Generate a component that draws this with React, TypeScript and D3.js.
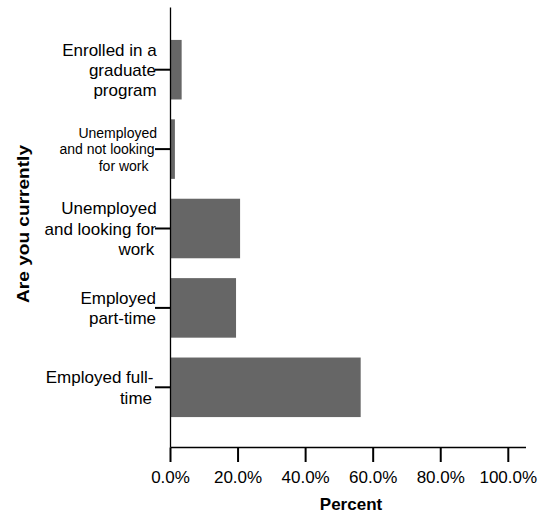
import React, { useEffect, useRef } from "react";
import * as d3 from "d3";

// categories top to bottom, each split into the lines shown on the axis
const categories = [
  "Enrolled in a graduate program",
  "Unemployed and not looking for work",
  "Unemployed and looking for work",
  "Employed part-time",
  "Employed full-time",
];
const categoryLines = [
  ["Enrolled in a", "graduate", "program"],
  ["Unemployed", "and not looking", "for work"],
  ["Unemployed", "and looking for", "work"],
  ["Employed", "part-time"],
  ["Employed full-", "time"],
];
const percents = [3.3, 1.3, 20.6, 19.4, 56.3];
const xTicks = [0, 20, 40, 60, 80, 100];

// right edge of each wrapped label line (the source wrap leaves trailing spaces)
const lineEnds = [
  [156.7, 156, 156.7],
  [157, 154.5, 148.5],
  [156.7, 156, 154.3],
  [156, 156],
  [153.5, 152],
];

const FONT = "'Liberation Sans', Arial, sans-serif";

export default function App() {
  const svgRef = useRef<SVGSVGElement>(null);

  useEffect(() => {
    if (!svgRef.current) return;
    const svg = d3.select(svgRef.current);
    svg.selectAll("*").remove();

    const x0 = 170.5;
    const x = d3.scaleLinear().domain([0, 100]).range([x0, 508.3]);
    const y = d3
      .scaleBand<string>()
      .domain(categories)
      .range([30, 427])
      .paddingInner(0.25)
      .paddingOuter(0.125);
    const axisY = 447.5;

    // bars
    svg
      .append("g")
      .selectAll("rect")
      .data(categories)
      .enter()
      .append("rect")
      .attr("x", x0)
      .attr("y", (d) => y(d)!)
      .attr("width", (d, i) => x(percents[i]) - x0)
      .attr("height", y.bandwidth())
      .attr("fill", "#666666");

    // axis lines
    svg
      .append("line")
      .attr("x1", x0)
      .attr("x2", x0)
      .attr("y1", 7.5)
      .attr("y2", axisY)
      .attr("stroke", "#000")
      .attr("stroke-width", 1.3);
    svg
      .append("line")
      .attr("x1", x0)
      .attr("x2", 526)
      .attr("y1", axisY)
      .attr("y2", axisY)
      .attr("stroke", "#000")
      .attr("stroke-width", 1.3);

    // x ticks + labels
    const xt = svg.append("g");
    xt.selectAll("line")
      .data(xTicks)
      .enter()
      .append("line")
      .attr("x1", (d) => x(d))
      .attr("x2", (d) => x(d))
      .attr("y1", axisY)
      .attr("y2", 462)
      .attr("stroke", "#000")
      .attr("stroke-width", 2);
    xt.selectAll("text")
      .data(xTicks)
      .enter()
      .append("text")
      .attr("x", (d) => x(d))
      .attr("y", 482.5)
      .attr("text-anchor", "middle")
      .style("font-family", FONT)
      .style("font-size", "17px")
      .attr("fill", "#000")
      .text((d) => d3.format(".1f")(d) + "%");

    // y ticks + wrapped labels
    const yt = svg.append("g");
    categories.forEach((c, i) => {
      const cy = y(c)! + y.bandwidth() / 2;
      yt.append("line")
        .attr("x1", 155)
        .attr("x2", x0)
        .attr("y1", cy)
        .attr("y2", cy)
        .attr("stroke", "#000")
        .attr("stroke-width", 2);
      const small = i === 1;
      const lh = small ? 16.5 : 20.3;
      const lines = categoryLines[i];
      const t = yt
        .append("text")
        .attr("text-anchor", "end")
        .style("font-family", FONT)
        .style("font-size", small ? "14px" : "17px")
        .attr("fill", "#000");
      lines.forEach((ln, k) => {
        t.append("tspan")
          .attr("x", lineEnds[i][k])
          .attr("y", cy + (k - (lines.length - 1) / 2) * lh)
          .attr("dy", "0.36em")
          .text(ln);
      });
    });

    // axis titles
    svg
      .append("text")
      .attr("x", 351)
      .attr("y", 509.5)
      .attr("text-anchor", "middle")
      .style("font-family", FONT)
      .style("font-size", "17px")
      .style("font-weight", "bold")
      .text("Percent");

    svg
      .append("text")
      .attr("transform", "translate(28.5,224) rotate(-90)")
      .attr("text-anchor", "middle")
      .style("font-family", FONT)
      .style("font-size", "17px")
      .style("font-weight", "bold")
      .attr("textLength", 158)
      .attr("lengthAdjust", "spacingAndGlyphs")
      .text("Are you currently");
  }, []);

  return (
    <div style={{ position: "absolute", left: 0, top: 0 }}>
      <svg ref={svgRef} width={543} height={516} style={{ display: "block", background: "#fff" }} />
    </div>
  );
}
